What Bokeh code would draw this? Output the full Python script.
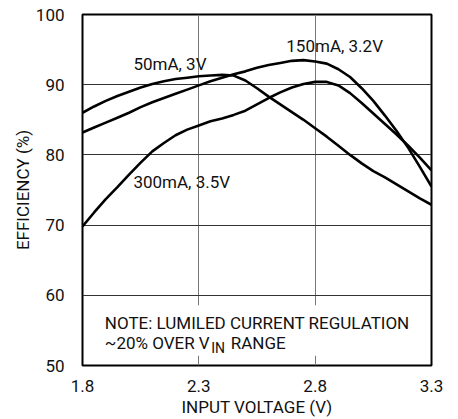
from bokeh.plotting import figure
from bokeh.models import Range1d, FixedTicker, Label, BoxAnnotation
from bokeh.embed import file_html
from bokeh.resources import INLINE

# ---- data ----
vin = [1.80, 1.85, 1.90, 1.95, 2.00, 2.05, 2.10, 2.15, 2.20, 2.25, 2.30,
       2.35, 2.40, 2.45, 2.50, 2.55, 2.60, 2.65, 2.70, 2.75, 2.80,
       2.85, 2.90, 2.95, 3.00, 3.05, 3.10, 3.15, 3.20, 3.25, 3.30]

eff_50mA = [86.0, 86.9, 87.7, 88.4, 89.0, 89.6, 90.1, 90.5, 90.8, 91.0, 91.2,
            91.3, 91.4, 91.3, 90.6, 89.5, 88.3, 87.2, 86.1, 85.0, 83.8,
            82.6, 81.3, 80.0, 78.8, 77.7, 76.8, 75.8, 74.8, 73.8, 72.9]

eff_150mA = [83.2, 83.9, 84.6, 85.3, 86.0, 86.8, 87.5, 88.1, 88.7, 89.3, 89.9,
             90.5, 91.0, 91.5, 91.9, 92.4, 92.8, 93.1, 93.4, 93.5, 93.3,
             93.0, 92.2, 91.1, 89.5, 87.7, 85.6, 83.4, 81.0, 78.3, 75.5]

eff_300mA = [69.8, 71.8, 73.7, 75.4, 77.2, 78.9, 80.5, 81.7, 82.8, 83.6, 84.2,
             84.8, 85.2, 85.7, 86.3, 87.2, 88.1, 88.9, 89.6, 90.1, 90.4,
             90.4, 89.9, 88.8, 87.4, 85.9, 84.4, 82.9, 81.3, 79.6, 77.8]

x_ticks = [1.8, 2.3, 2.8, 3.3]
y_ticks = [50, 60, 70, 80, 90, 100]

FONT = "Roboto"

p = figure(width=458, height=419, output_backend="svg", toolbar_location=None,
           x_range=Range1d(1.8, 3.3), y_range=Range1d(50, 100),
           min_border_left=82, min_border_right=27, min_border_top=14,
           min_border_bottom=54)

p.outline_line_color = "black"
p.outline_line_width = 2

for ax in (p.xaxis[0], p.yaxis[0]):
    ax.axis_line_color = None
    ax.major_tick_line_color = None
    ax.minor_tick_line_color = None
    ax.major_label_text_font = FONT
    ax.major_label_text_font_size = "17px"
    ax.major_label_text_color = "#111111"
    ax.axis_label_text_font = FONT
    ax.axis_label_text_font_size = "17px"
    ax.axis_label_text_font_style = "normal"
    ax.axis_label_text_color = "#111111"

p.xaxis.ticker = FixedTicker(ticks=x_ticks)
p.yaxis.ticker = FixedTicker(ticks=y_ticks)
p.xaxis.axis_label = "INPUT VOLTAGE (V)"
p.yaxis.axis_label = "EFFICIENCY (%)"
p.xaxis.major_label_standoff = 8
p.xaxis.axis_label_standoff = 2
p.yaxis.major_label_standoff = 12
p.yaxis.axis_label_standoff = 0

p.xgrid.grid_line_color = "#777777"
p.xgrid.grid_line_width = 1
p.ygrid.grid_line_color = "#333333"
p.ygrid.grid_line_width = 1

for ys in (eff_50mA, eff_150mA, eff_300mA):
    p.line(vin, ys, line_color="black", line_width=2.6, line_join="round")

# white patch behind the note (breaks the grid lines)
p.add_layout(BoxAnnotation(left=1.875, right=3.23, bottom=51.4, top=58.6,
                           fill_color="white", fill_alpha=1.0, line_color=None))

def lab(x, y, t, size="17px"):
    p.add_layout(Label(x=x, y=y, text=t, text_font=FONT, text_font_size=size,
                       text_color="#111111", text_baseline="alphabetic",
                       text_align="left"))

lab(2.019, 92.9, "50mA, 3V")
lab(2.676, 95.5, "150mA, 3.2V")
lab(2.019, 76.2, "300mA, 3.5V")
lab(1.896, 56.07, "NOTE: LUMILED CURRENT REGULATION")
lab(1.896, 53.16, "~20% OVER V")
lab(2.353, 52.51, "IN", size="14px")
lab(2.437, 53.16, "RANGE")

open("out.html", "w").write(file_html(p, INLINE))
